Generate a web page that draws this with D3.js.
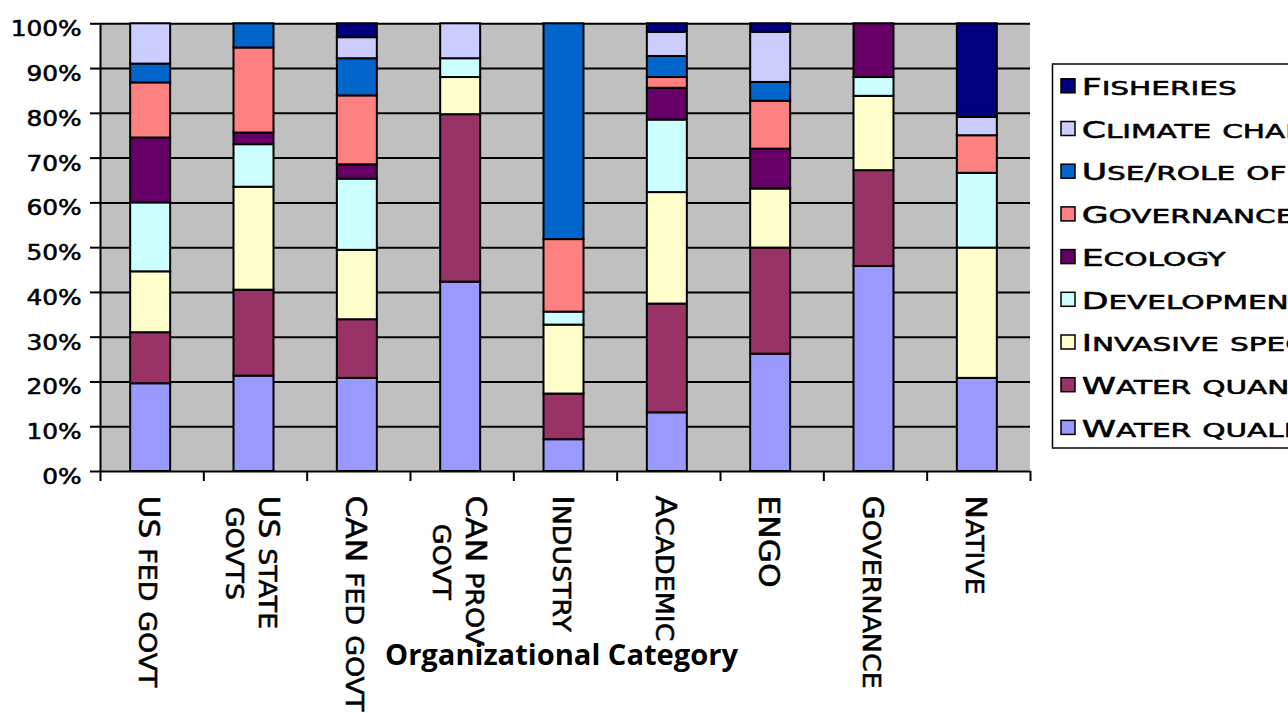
<!DOCTYPE html>
<html><head><meta charset="utf-8">
<script src="https://cdn.jsdelivr.net/npm/d3@7"></script>
<style>
html,body{margin:0;padding:0;background:#fff;overflow:hidden}
svg{display:block}
text{white-space:pre}
.sc{text-transform:uppercase}
</style></head><body>
<svg id="chart" width="1288" height="713"></svg>
<script>
// ---------- data ----------
const categories = ["US fed govt", "US state govts", "CAN fed govt", "CAN prov govt", "Industry", "Academic", "ENGO", "Governance", "Native"];
const categoryLines = [["US fed govt"], ["US state", "govts"], ["CAN fed govt"], ["CAN prov", "govt"], ["Industry"], ["Academic"], ["ENGO"], ["Governance"], ["Native"]];
const seriesNames = ["Water quality", "Water quantity", "Invasive species", "Development", "Ecology", "Governance", "Use/role of science", "Climate change", "Fisheries"];
const seriesColors = ["#9999FF", "#993366", "#FFFFCC", "#CCFFFF", "#660066", "#FF8080", "#0066CC", "#CCCCFF", "#000080"];
const waterQuality    = [19.6, 21.3, 20.8, 42.3,  7.1, 13.1, 26.2, 45.8, 20.8];
const waterQuantity   = [11.4, 19.2, 13.1, 37.4, 10.2, 24.3, 23.7, 21.4,  0.0];
const invasiveSpecies = [13.6, 23.0, 15.5,  8.3, 15.4, 24.9, 13.2, 16.6, 29.1];
const development     = [15.4,  9.5, 15.9,  4.2,  2.9, 16.2,  0.0,  4.2, 16.7];
const ecology         = [14.5,  2.6,  3.2,  0.0,  0.0,  7.1,  8.9, 12.0,  0.0];
const governance      = [12.3, 19.0, 15.4,  0.0, 16.2,  2.4, 10.7,  0.0,  8.4];
const useRoleOf       = [ 4.2,  5.4,  8.3,  0.0, 48.2,  4.7,  4.2,  0.0,  0.0];
const climateChange   = [ 9.0,  0.0,  4.7,  7.8,  0.0,  5.4, 11.2,  0.0,  4.1];
const fisheries       = [ 0.0,  0.0,  3.1,  0.0,  0.0,  1.9,  1.9,  0.0, 20.9];
const yTicks = [0, 10, 20, 30, 40, 50, 60, 70, 80, 90, 100];
const xTitle = "Organizational Category";

const seriesValues = [waterQuality, waterQuantity, invasiveSpecies, development, ecology, governance, useRoleOf, climateChange, fisheries];
const table = categories.map((c, i) => {
  const row = {category: c};
  seriesNames.forEach((s, j) => row[s] = seriesValues[j][i]);
  return row;
});

// ---------- layout ----------
const L = 100, R = 1030, T = 23.3, B = 471;
const svg = d3.select("#chart");
const FONT = "'DejaVu Sans', Verdana, sans-serif";
const WEIGHT_STROKE = 0.55;

const x = d3.scaleBand().domain(categories).range([L, R]).paddingInner(0.613).paddingOuter(0.3065);
const xEdge = d3.scaleLinear().domain([0, categories.length]).range([L, R]);
const y = d3.scaleLinear().domain([0, 100]).range([B, T]);

function addSmallCaps(sel, str, big, small) {
  const runs = [];
  for (const ch of str) {
    const isSmall = ch !== ch.toUpperCase();
    const last = runs[runs.length - 1];
    if (last && last.small === isSmall) last.s += ch; else runs.push({s: ch, small: isSmall});
  }
  sel.selectAll("tspan").data(runs).join("tspan")
    .attr("font-size", d => d.small ? small : big)
    .attr("class", d => d.small ? "sc" : null)
    .text(d => d.s);
}
function heavy(sel) {
  return sel.attr("font-family", FONT).attr("fill", "#000")
    .attr("stroke", "#000").attr("stroke-width", WEIGHT_STROKE).attr("stroke-linejoin", "round");
}

// plot background
svg.append("rect").attr("x", L).attr("y", T).attr("width", R - L).attr("height", B - T).attr("fill", "#C0C0C0");

// gridlines
const grid = svg.append("g").attr("transform", `translate(${L},0)`)
  .call(d3.axisLeft(y).tickValues(yTicks.slice(1)).tickSize(-(R - L)).tickFormat(""));
grid.select(".domain").remove();
grid.selectAll("line").attr("stroke", "#000").attr("stroke-width", 2);

// bars
const stack = d3.stack().keys(seriesNames)(table);
const barShift = -1.5;
svg.append("g").selectAll("g").data(stack).join("g")
  .attr("fill", (d, i) => seriesColors[i])
  .selectAll("rect").data(d => d.filter(s => s[1] - s[0] > 0.01)).join("rect")
  .attr("x", d => x(d.data.category) + barShift)
  .attr("width", x.bandwidth())
  .attr("y", d => y(d[1]))
  .attr("height", d => y(d[0]) - y(d[1]))
  .attr("stroke", "#000").attr("stroke-width", 2);

// y axis
const yAxis = svg.append("g").attr("transform", `translate(${L},0)`)
  .call(d3.axisLeft(y).tickValues(yTicks).tickSizeInner(10).tickSizeOuter(0).tickFormat(d => d + "%"));
yAxis.select(".domain").attr("stroke", "#000").attr("stroke-width", 2);
yAxis.selectAll("line").attr("stroke", "#000").attr("stroke-width", 2);
const yTexts = heavy(yAxis.selectAll("text"))
  .attr("font-size", 21).attr("text-anchor", "end").attr("dy", null).attr("x", null);
let ySx = 1;
yTexts.each(function(d) { if (d === 100) ySx = 71 / this.getComputedTextLength(); });
yTexts.attr("transform", `translate(-18.3,12.5) scale(${ySx},1)`);

// x axis (boundary ticks)
const xAxis = svg.append("g").attr("transform", `translate(0,${B})`)
  .call(d3.axisBottom(xEdge).tickValues(d3.range(categories.length + 1)).tickSizeInner(10).tickSizeOuter(0).tickFormat(""));
xAxis.select(".domain").attr("stroke", "#000").attr("stroke-width", 2);
xAxis.selectAll("line").attr("stroke", "#000").attr("stroke-width", 2);

// x category labels (rotated, small caps)
const capH = 20.7, linePitch = 33;
const labG = svg.append("g");
const labelGroups = labG.selectAll("g").data(categories).join("g");
let xSx = 1;
labelGroups.each(function(c, i) {
  const g = d3.select(this);
  const lines = categoryLines[i];
  const n = lines.length;
  const texts = lines.map((ln, k) => {
    const t = heavy(g.append("text"))
      .attr("y", capH / 2 + 2 + (k - (n - 1) / 2) * linePitch);
    addSmallCaps(t, ln, 28, 24);
    return t;
  });
  const widths = texts.map(t => t.node().getComputedTextLength());
  const block = d3.max(widths);
  texts.forEach((t, k) => t.attr("x", (block - widths[k]) / 2 - (k > 0 ? 8 : 0)));
  if (c === "CAN fed govt") xSx = 216 / widths[0];
});
labelGroups.attr("transform", c => `translate(${x(c) + x.bandwidth() / 2},495.5) rotate(90) scale(${xSx},1)`);

// x title
svg.append("text").attr("x", 561.5).attr("y", 665).attr("text-anchor", "middle")
  .attr("font-family", "'Open Sans', Lato, sans-serif").attr("font-weight", 700).attr("font-size", 29)
  .attr("textLength", 353).attr("lengthAdjust", "spacingAndGlyphs").attr("fill", "#000").text(xTitle);

// legend
const lg = svg.append("g");
lg.append("rect").attr("x", 1052.5).attr("y", 64).attr("width", 300).attr("height", 384)
  .attr("fill", "#fff").attr("stroke", "#000").attr("stroke-width", 1.5);
const legendOrder = d3.range(seriesNames.length).reverse();
const pitch = 42.7;
const items = lg.selectAll("g.item").data(legendOrder).join("g").attr("class", "item")
  .attr("transform", (d, i) => `translate(0,${85.8 + i * pitch})`);
items.append("rect").attr("x", 1061).attr("y", -7).attr("width", 14).attr("height", 14)
  .attr("fill", d => seriesColors[d]).attr("stroke", "#000").attr("stroke-width", 1.5);
const lTexts = heavy(items.append("text"));
lTexts.each(function(d) { addSmallCaps(d3.select(this), seriesNames[d], 23, 19.6); });
let lSx = 1;
lTexts.each(function(d) { if (seriesNames[d] === "Fisheries") lSx = 155 / this.getComputedTextLength(); });
lTexts.attr("transform", `translate(1081.7,9.2) scale(${lSx},1)`);
</script>
</body></html>
